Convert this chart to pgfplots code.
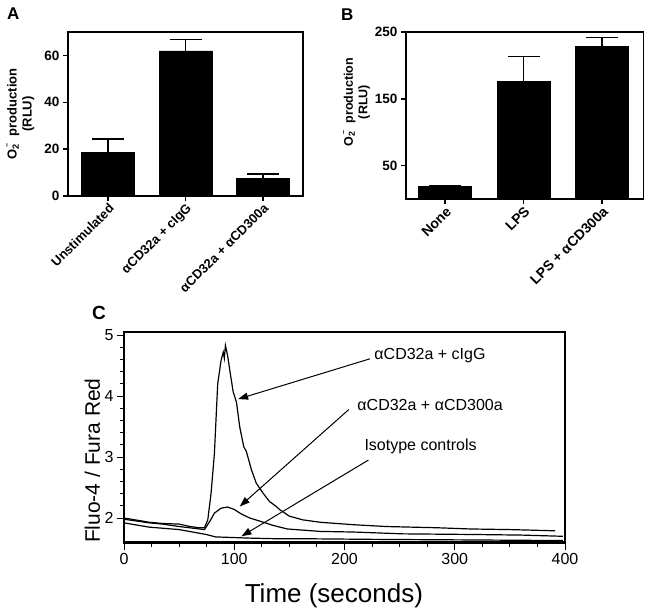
\documentclass[border=0pt]{standalone}
\usepackage{fontspec}
\setmainfont{Liberation Sans}
\usepackage{pgfplots}
\pgfplotsset{compat=1.18}
\usetikzlibrary{arrows.meta}
\newcommand{\fs}[2]{\fontsize{#1bp}{#2bp}\selectfont}
\newcommand{\Otwo}{O\rlap{\textsubscript{2}}\raisebox{0.55em}{\scriptsize\,\,−}}
\begin{document}
\begin{tikzpicture}
\path[use as bounding box] (0,0) rectangle (645bp,615bp);
\pgfplotsset{
  barpanel/.style={
    anchor=south west, scale only axis,
    tick pos=left, tick align=outside, major tick length=5bp,
    axis line style={line width=1.8bp},
    tick style={line width=1.5bp, black},
    /pgf/number format/assume math mode=true,
    ybar, bar width=53bp,
    ylabel style={align=center},
  }
}
% ---------- Panel A ----------
\begin{axis}[barpanel,
  at={(68bp,419bp)}, width=235bp, height=164bp,
  xmin=-0.52, xmax=2.52, ymin=0, ymax=70,
  xtick={0,1,2}, xticklabels={Unstimulated,αCD32a + cIgG,αCD32a + αCD300a},
  ytick={0,20,40,60},
  xticklabel style={rotate=45, anchor=north east, font=\bfseries\fs{13}{15}, inner sep=1bp},
  yticklabel style={font=\bfseries\fs{13.5}{15}},
  ylabel={\Otwo\ \ production\\(RLU)},
  ylabel style={at={(axis description cs:-0.202,0.5)}, anchor=center, font=\bfseries\fs{13}{15}},
]
\addplot[fill=black, draw=black,
  error bars/.cd, y dir=plus, y explicit,
  error bar style={line width=1.5bp, black},
  error mark options={rotate=90, line width=1.5bp, mark size=16bp, black}]
  coordinates {(0,18.7) +- (0,5.6) (1,61.9) +- (0,5.0) (2,7.6) +- (0,1.7)};
\end{axis}
% ---------- Panel B ----------
\begin{axis}[barpanel,
  at={(406bp,416bp)}, width=237.5bp, height=167bp,
  xmin=-0.5, xmax=2.53, ymin=0, ymax=250,
  xtick={0,1,2}, xticklabels={None,LPS,LPS + αCD300a},
  ytick={50,150,250},
  xticklabel style={rotate=45, anchor=north east, font=\bfseries\fs{14}{16}, inner sep=1bp},
  yticklabel style={font=\bfseries\fs{13.5}{15}},
  ylabel={\Otwo\ \ production\\(RLU)},
  ylabel style={at={(axis description cs:-0.208,0.58)}, anchor=center, font=\bfseries\fs{12.5}{14.5}},
]
\addplot[fill=black, draw=black,
  error bars/.cd, y dir=plus, y explicit,
  error bar style={line width=1.5bp, black},
  error mark options={rotate=90, line width=1.5bp, mark size=16bp, black}]
  coordinates {(0,19) +- (0,1) (1,176) +- (0,37) (2,229) +- (0,13)};
\end{axis}
% ---------- Panel C ----------
\begin{axis}[
  at={(124bp,72bp)}, anchor=south west, scale only axis,
  width=441bp, height=211bp,
  xmin=0, xmax=400, ymin=1.59, ymax=5.05,
  xtick={0,100,200,300,400}, ytick={2,3,4,5},
  minor x tick num=3, minor y tick num=4,
  tick pos=left, tick align=outside,
  major tick length=7bp, minor tick length=4bp,
  axis line style={line width=1.2bp},
  tick style={line width=0.9bp, black},
  /pgf/number format/assume math mode=true,
  ticklabel style={font=\fs{16}{18}},
  xlabel={Time (seconds)},
  xlabel style={at={(axis description cs:0.476,-0.251)}, anchor=center, font=\fs{26}{30}},
  ylabel={Fluo-4 / Fura Red},
  ylabel style={at={(axis description cs:-0.072,0.39)}, anchor=center, font=\fs{21}{25}},
]
\addplot[black, line width=1.2bp] coordinates {
(0,2.0)(10,1.97)(23,1.93)(35,1.91)(50,1.90)(60,1.86)(68,1.84)(73,1.84)(76,1.97)(79,2.41)(82,3.06)(85,4.20)(88,4.58)(90,4.72)(91,4.62)(92,4.83)(94,4.66)(96.5,4.36)(99,4.07)(102,3.90)(105,3.49)(108.6,3.17)(111,3.09)(115.6,2.79)(120,2.57)(126,2.41)(132,2.27)(138,2.19)(141,2.14)(150,2.03)(162,1.97)(178,1.93)(208,1.89)(238,1.86)(284,1.84)(314,1.82)(350,1.81)(391,1.79)};
\addplot[black, line width=1.2bp] coordinates {
(0,1.98)(23,1.92)(35,1.90)(50,1.86)(68.6,1.82)(73,1.81)(78,1.95)(82,2.08)(88,2.16)(94,2.18)(100,2.14)(106,2.07)(114,2.0)(123,1.95)(135,1.88)(148,1.82)(178,1.78)(208,1.77)(253,1.74)(314,1.73)(360,1.72)(398,1.70)};
\addplot[black, line width=1.2bp] coordinates {
(0,1.92)(23,1.85)(50,1.81)(74.5,1.73)(83,1.69)(114,1.67)(138,1.66)(163,1.66)(223,1.65)(314,1.64)(398,1.63)};
\addplot[black, line width=1.2bp] coordinates {(0,1.612)(200,1.612)(400,1.612)};
\draw[line width=1bp, -{Triangle[length=10bp,width=7bp]}] (axis cs:223,4.61) -- (axis cs:103.5,3.95);
\draw[line width=1bp, -{Triangle[length=10bp,width=7bp]}] (axis cs:204,3.78) -- (axis cs:105,2.19);
\draw[line width=1bp, -{Triangle[length=10bp,width=7bp]}] (axis cs:221.7,2.95) -- (axis cs:106.5,1.70);
\node[anchor=west, font=\fs{16}{19}, inner sep=0pt] at (axis cs:227,4.66) {αCD32a + cIgG};
\node[anchor=west, font=\fs{16}{19}, inner sep=0pt] at (axis cs:211.6,3.85) {αCD32a + αCD300a};
\node[anchor=west, font=\fs{16}{19}, inner sep=0pt] at (axis cs:218,3.18) {Isotype controls};
\end{axis}
% panel letters
\node[anchor=base west, font=\bfseries\fs{17}{20}, inner sep=0pt] at (7bp,595bp) {A};
\node[anchor=base west, font=\bfseries\fs{17}{20}, inner sep=0pt] at (341bp,594bp) {B};
\node[anchor=base west, font=\bfseries\fs{19}{22}, inner sep=0pt] at (92bp,295bp) {C};
\end{tikzpicture}
\end{document}
